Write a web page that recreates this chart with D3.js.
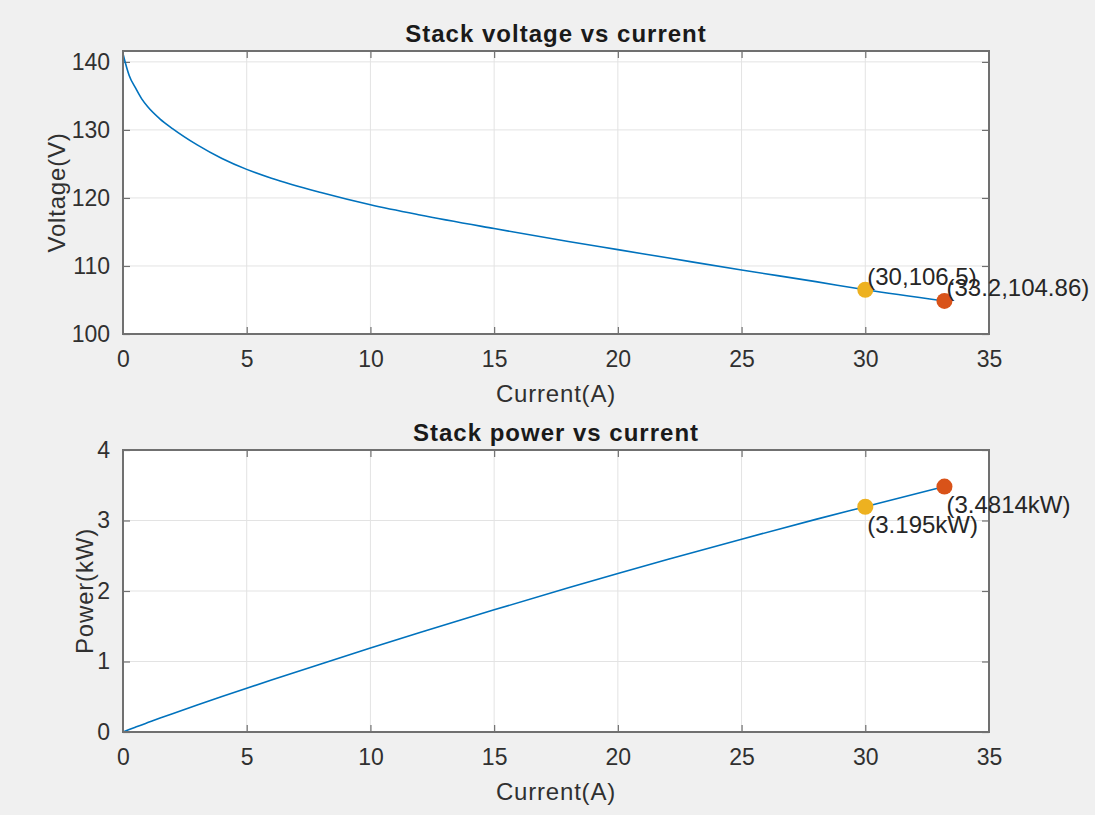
<!DOCTYPE html>
<html>
<head>
<meta charset="utf-8">
<script src="https://cdn.jsdelivr.net/npm/d3@7"></script>
<style>
  html, body { margin: 0; padding: 0; background: #f0f0f0; }
  svg { display: block; font-family: "Liberation Sans", Arial, Helvetica, sans-serif; }
</style>
</head>
<body>
<svg id="chart" width="1095" height="815"></svg>
<script>
// ---- Data ----
const current = [0, 0.1, 0.25, 0.5, 0.75, 1, 1.5, 2, 3, 4, 5, 6, 8, 10, 12, 15, 18, 20, 22, 25, 28, 30, 33.2];
const voltage = [141.2, 139.8, 138.0, 136.2, 134.6, 133.4, 131.6, 130.2, 127.8, 125.8, 124.2, 122.9, 120.8, 119.0, 117.5, 115.5, 113.6, 112.4, 111.2, 109.4, 107.7, 106.5, 104.86];
const power   = [0, 0.014, 0.0345, 0.068, 0.101, 0.133, 0.197, 0.260, 0.383, 0.503, 0.621, 0.737, 0.966, 1.190, 1.410, 1.733, 2.045, 2.248, 2.446, 2.735, 3.016, 3.195, 3.4814];

const markerI = [30, 33.2];
const markerV = [106.5, 104.86];
const markerP = [3.195, 3.4814];
const markerColors = ["#EDB120", "#D95319"];
const voltLabels = ["(30,106.5)", "(33.2,104.86)"];
const powerLabels = ["(3.195kW)", "(3.4814kW)"];

const xTicks = [0, 5, 10, 15, 20, 25, 30, 35];
const vTicks = [100, 110, 120, 130, 140];
const pTicks = [0, 1, 2, 3, 4];

const svg = d3.select("#chart");
svg.append("rect").attr("width", 1095).attr("height", 815).attr("fill", "#f0f0f0");

function panel(opts) {
  const { top, bottom, left, right, yDomain, yTicks, yVals, title, ylabel, ylabelX, mY, labels, labelDy } = opts;
  const x = d3.scaleLinear().domain([0, 35]).range([left, right]);
  const y = d3.scaleLinear().domain(yDomain).range([bottom, top]);
  const g = svg.append("g");

  g.append("rect").attr("x", left).attr("y", top).attr("width", right - left).attr("height", bottom - top).attr("fill", "#ffffff");

  // grid
  g.append("g").selectAll("line.vg").data(xTicks).join("line")
    .attr("x1", d => x(d)).attr("x2", d => x(d)).attr("y1", top).attr("y2", bottom)
    .attr("stroke", "#e3e3e3").attr("stroke-width", 1);
  g.append("g").selectAll("line.hg").data(yTicks).join("line")
    .attr("y1", d => y(d)).attr("y2", d => y(d)).attr("x1", left).attr("x2", right)
    .attr("stroke", "#e3e3e3").attr("stroke-width", 1);

  // axes (inward ticks)
  const tl = 7;
  const fmt = d3.format("d");
  const axB = g.append("g").attr("transform", `translate(0,${bottom})`)
    .call(d3.axisBottom(x).tickValues(xTicks).tickFormat(fmt).tickSizeInner(-tl).tickSizeOuter(0).tickPadding(tl + 10));
  const axT = g.append("g").attr("transform", `translate(0,${top})`)
    .call(d3.axisTop(x).tickValues(xTicks).tickSizeInner(-tl).tickSizeOuter(0).tickFormat(""));
  const axL = g.append("g").attr("transform", `translate(${left},0)`)
    .call(d3.axisLeft(y).tickValues(yTicks).tickFormat(fmt).tickSizeInner(-tl).tickSizeOuter(0).tickPadding(tl + 6));
  const axR = g.append("g").attr("transform", `translate(${right},0)`)
    .call(d3.axisRight(y).tickValues(yTicks).tickSizeInner(-tl).tickSizeOuter(0).tickFormat(""));
  [axB, axT, axL, axR].forEach(a => {
    a.attr("font-size", null).attr("font-family", null);
    a.select(".domain").remove();
    a.selectAll(".tick line").attr("stroke", "#707070").attr("stroke-width", 1.2);
    a.selectAll(".tick text").style("font-size", "23px").attr("fill", "#303030")
      .style("font-family", "'Liberation Sans', Arial, sans-serif");
  });
  axB.selectAll(".tick line").filter(d => d === 0 || d === 35).remove();
  axT.selectAll(".tick line").filter(d => d === 0 || d === 35).remove();

  // line
  const line = d3.line().x((d, i) => x(current[i])).y(d => y(d)).curve(d3.curveMonotoneX);
  g.append("path").datum(yVals).attr("d", line)
    .attr("fill", "none").attr("stroke", "#0072BD").attr("stroke-width", 1.6);

  // box
  g.append("rect").attr("x", left).attr("y", top).attr("width", right - left).attr("height", bottom - top)
    .attr("fill", "none").attr("stroke", "#707070").attr("stroke-width", 2);

  // markers
  g.append("g").selectAll("circle").data(mY).join("circle")
    .attr("cx", (d, i) => x(markerI[i])).attr("cy", d => y(d)).attr("r", 8)
    .attr("fill", (d, i) => markerColors[i]);

  // marker labels
  g.append("g").selectAll("text").data(mY).join("text")
    .attr("x", (d, i) => x(markerI[i]) + 2).attr("y", d => y(d) + labelDy)
    .style("font-size", "24px").attr("fill", "#262626")
    .text((d, i) => labels[i]);

  // title
  g.append("text").attr("x", (left + right) / 2).attr("y", top - 9)
    .attr("text-anchor", "middle").attr("font-weight", "bold").style("font-size", "24px")
    .attr("letter-spacing", 1).attr("fill", "#1a1a1a").text(title);

  // x label
  g.append("text").attr("x", (left + right) / 2).attr("y", bottom + 68)
    .attr("text-anchor", "middle").style("font-size", "24px").attr("letter-spacing", 0.8)
    .attr("fill", "#303030").text("Current(A)");

  // y label
  g.append("text").attr("transform", `translate(${ylabelX},${(top + bottom) / 2}) rotate(-90)`)
    .attr("text-anchor", "middle").style("font-size", "24px").attr("letter-spacing", 0.8)
    .attr("fill", "#303030").text(ylabel);
}

panel({
  top: 51, bottom: 334, left: 123, right: 989,
  yDomain: [100, 141.6], yTicks: vTicks, yVals: voltage,
  title: "Stack voltage vs current", ylabel: "Voltage(V)", ylabelX: 65,
  mY: markerV, labels: voltLabels, labelDy: -5
});
panel({
  top: 450, bottom: 732, left: 123, right: 989,
  yDomain: [0, 4], yTicks: pTicks, yVals: power,
  title: "Stack power vs current", ylabel: "Power(kW)", ylabelX: 93,
  mY: markerP, labels: powerLabels, labelDy: 26
});
</script>
</body>
</html>
